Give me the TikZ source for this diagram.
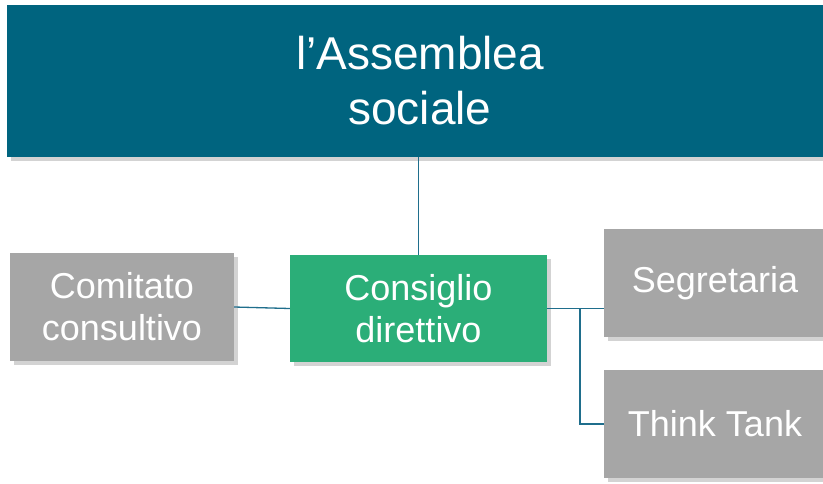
\documentclass[tikz,border=0pt]{standalone}
\usepackage{fontspec}
\setmainfont{Liberation Sans}
\usetikzlibrary{shadows}
\definecolor{topblue}{HTML}{00647F}
\definecolor{boxgreen}{HTML}{2BAE78}
\definecolor{boxgray}{HTML}{A6A6A6}
\definecolor{linkcol}{HTML}{1F6E8C}
\tikzset{
  box/.style={rectangle, inner sep=0pt, text=white, align=center,
    drop shadow={opacity=0.35, shadow xshift=4pt, shadow yshift=-4pt}},
  link/.style={draw=linkcol, line width=1.3pt}
}
\begin{document}
\begin{tikzpicture}[x=1pt,y=-1pt]
\useasboundingbox (0,0) rectangle (823,483);
\clip (0,0) rectangle (823,483);
\node[box, fill=topblue, minimum width=826pt, minimum height=152pt,
  font=\fontsize{46}{55}\selectfont] (top) at (420,81) {l’Assemblea\\sociale};
\node[box, fill=boxgreen, minimum width=257pt, minimum height=107pt,
  font=\fontsize{36}{42}\selectfont] (cons) at (418.5,308.5) {Consiglio\\direttivo};
\node[box, fill=boxgray, minimum width=224pt, minimum height=108pt,
  font=\fontsize{36}{42}\selectfont] (com) at (122,307) {Comitato\\consultivo};
\node[box, fill=boxgray, minimum width=222pt, minimum height=108pt,
  font=\fontsize{36}{42}\selectfont] (seg) at (715,283) {Segretaria};
\node[box, fill=boxgray, minimum width=222pt, minimum height=108pt,
  font=\fontsize{36}{42}\selectfont] (tt) at (715,424) {Think Tank};
\coordinate (br) at (580,308.5);
\draw[link] (cons.north) -- (cons.north |- top.south);
\draw[link] (com.east) -- (cons.west);
\draw[link] (cons.east) -- (cons.east -| seg.west);
\draw[link] (br) |- (tt.west);
\end{tikzpicture}
\end{document}
